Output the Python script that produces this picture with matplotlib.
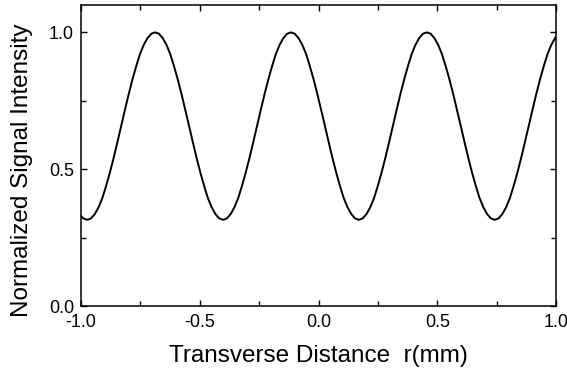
import matplotlib.pyplot as plt
from matplotlib.ticker import MultipleLocator, FormatStrFormatter

# transverse position r (mm)
r_mm = [
    -1.000, -0.990,
    -0.974, -0.958, -0.942, -0.926, -0.910, -0.895, -0.879, -0.863, -0.847,
    -0.831, -0.815, -0.799, -0.783, -0.767, -0.752, -0.736, -0.720, -0.704,
    -0.688, -0.672, -0.656, -0.640, -0.624, -0.609, -0.593, -0.577, -0.561,
    -0.545, -0.529, -0.513, -0.497, -0.481, -0.466, -0.450, -0.434, -0.418,
    -0.402, -0.386, -0.370, -0.354, -0.338, -0.323, -0.307, -0.291, -0.275,
    -0.259, -0.243, -0.227, -0.211, -0.195, -0.180, -0.164, -0.148, -0.132,
    -0.116, -0.100, -0.084, -0.068, -0.052, -0.037, -0.021, -0.005, 0.011,
    0.027, 0.043, 0.059, 0.075, 0.091, 0.106, 0.122, 0.138, 0.154,
    0.170, 0.186, 0.202, 0.218, 0.234, 0.249, 0.265, 0.281, 0.297,
    0.313, 0.329, 0.345, 0.361, 0.377, 0.392, 0.408, 0.424, 0.440,
    0.456, 0.472, 0.488, 0.504, 0.520, 0.535, 0.551, 0.567, 0.583,
    0.599, 0.615, 0.631, 0.647, 0.663, 0.678, 0.694, 0.710, 0.726,
    0.742, 0.758, 0.774, 0.790, 0.806, 0.821, 0.837, 0.853, 0.869,
    0.885, 0.901, 0.917, 0.933, 0.949, 0.964, 0.980, 0.996, 1.000,
]

# normalized signal intensity at those positions
intensity = [
    0.329, 0.320,
    0.315, 0.320, 0.336, 0.361, 0.395, 0.437, 0.486, 0.540, 0.598,
    0.658, 0.717, 0.775, 0.829, 0.878, 0.920, 0.954, 0.979, 0.995,
    1.000, 0.995, 0.979, 0.954, 0.920, 0.878, 0.829, 0.775, 0.717,
    0.658, 0.598, 0.540, 0.486, 0.437, 0.395, 0.361, 0.336, 0.320,
    0.315, 0.320, 0.336, 0.361, 0.395, 0.437, 0.486, 0.540, 0.598,
    0.658, 0.717, 0.775, 0.829, 0.878, 0.920, 0.954, 0.979, 0.995,
    1.000, 0.995, 0.979, 0.954, 0.920, 0.878, 0.829, 0.775, 0.717,
    0.658, 0.598, 0.540, 0.486, 0.437, 0.395, 0.361, 0.336, 0.320,
    0.315, 0.320, 0.336, 0.361, 0.395, 0.437, 0.486, 0.540, 0.598,
    0.658, 0.717, 0.775, 0.829, 0.878, 0.920, 0.954, 0.979, 0.995,
    1.000, 0.995, 0.979, 0.954, 0.920, 0.878, 0.829, 0.775, 0.717,
    0.658, 0.598, 0.540, 0.486, 0.437, 0.395, 0.361, 0.336, 0.320,
    0.315, 0.320, 0.336, 0.361, 0.395, 0.437, 0.486, 0.540, 0.598,
    0.658, 0.717, 0.775, 0.829, 0.878, 0.920, 0.954, 0.979, 0.984,
]

plt.rcParams['font.family'] = ['Liberation Sans', 'DejaVu Sans']

fig = plt.figure(figsize=(5.67, 3.72), dpi=100)
ax = fig.add_axes([0.1429, 0.1774, 0.8377, 0.8092])

ax.plot(r_mm, intensity, color='black', lw=1.4)

ax.set_xlim(-1.0, 1.0)
ax.set_ylim(0.0, 1.1)
ax.xaxis.set_major_locator(MultipleLocator(0.5))
ax.xaxis.set_minor_locator(MultipleLocator(0.25))
ax.yaxis.set_major_locator(MultipleLocator(0.5))
ax.yaxis.set_minor_locator(MultipleLocator(0.25))
ax.xaxis.set_major_formatter(FormatStrFormatter('%.1f'))
ax.yaxis.set_major_formatter(FormatStrFormatter('%.1f'))

ax.tick_params(which='both', direction='in', top=True, right=True,
               labelsize=13, width=1)
ax.tick_params(axis='x', pad=6)
ax.tick_params(axis='y', pad=5)
ax.tick_params(which='major', length=4)
ax.tick_params(which='minor', length=3.5)
for s in ax.spines.values():
    s.set_linewidth(1.1)

ax.set_xlabel('Transverse Distance  r(mm)', fontsize=17.5, labelpad=10)
ax.set_ylabel('Normalized Signal Intensity', fontsize=17.5)
ax.yaxis.set_label_coords(-0.101, 0.452)

fig.savefig('out.png', dpi=100)
